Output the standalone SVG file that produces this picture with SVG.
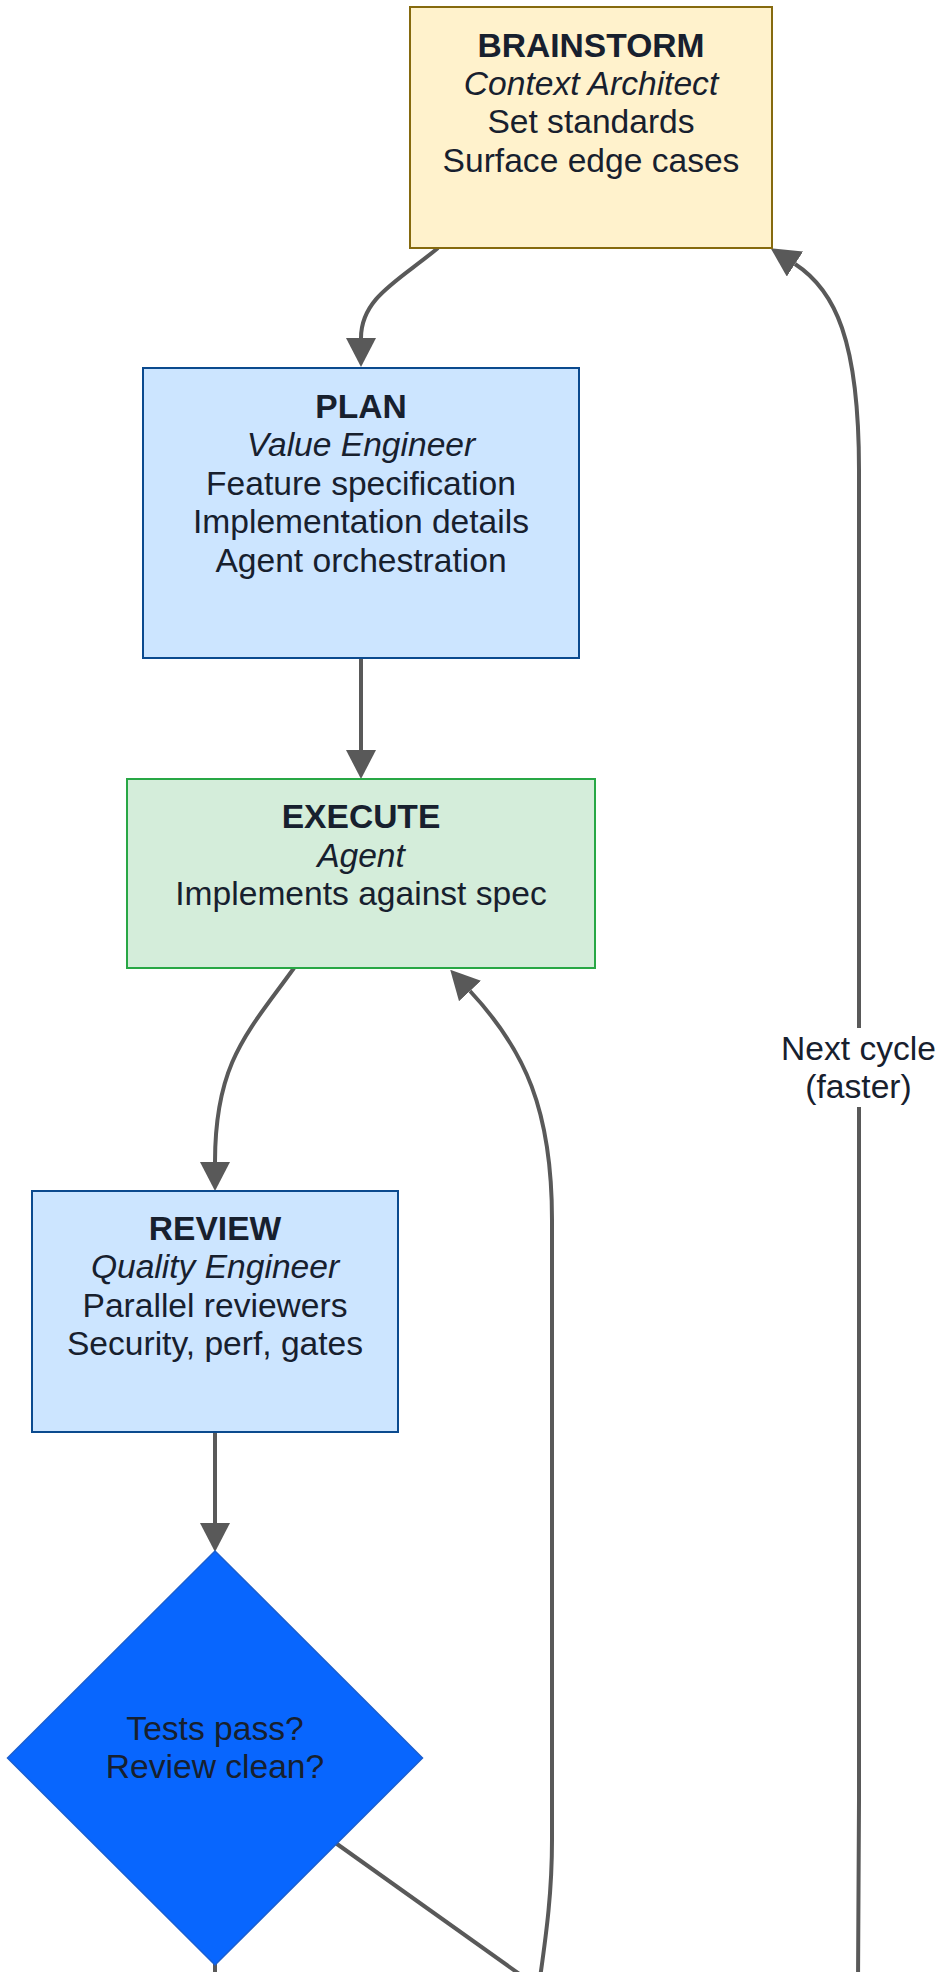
<svg xmlns="http://www.w3.org/2000/svg" width="942" height="1972" viewBox="0 0 942 1972">
  <style>
    .lbl { font-family: "Liberation Sans", Arial, sans-serif; font-size: 33.6px; fill: #17202e; text-anchor: middle; }
    .title { font-weight: bold; }
    .role { font-style: italic; }
    .edge { fill: none; stroke: #595959; stroke-width: 4; }
    .yellow { fill: #fff2cc; stroke: #866a0e; stroke-width: 2; }
    .blue { fill: #cce5ff; stroke: #0b4a8e; stroke-width: 2; }
    .green { fill: #d4edda; stroke: #28a745; stroke-width: 2; }
    .decision { fill: #0866fe; stroke: #1a5fd0; stroke-width: 1.5; }
  </style>
  <defs>
    <marker id="arrow" markerUnits="userSpaceOnUse" viewBox="0 0 29 30" refX="0" refY="15" markerWidth="29" markerHeight="30" orient="auto">
      <path d="M0,0 L29,15 L0,30 z" fill="#595959"/>
    </marker>
  </defs>
  <rect width="942" height="1972" fill="#ffffff"/>

  <!-- connectors -->
  <g id="edges">
    <path class="edge" d="M438,248 C 398,281 361,298 361,338" marker-end="url(#arrow)"/>
    <path class="edge" d="M361,658 L361,750" marker-end="url(#arrow)"/>
    <path class="edge" d="M294,968 C 248,1032 215,1062 215,1162" marker-end="url(#arrow)"/>
    <path class="edge" d="M215,1432 L215,1523" marker-end="url(#arrow)"/>
    <path class="edge" d="M330,1839 L532,1983"/>
    <path class="edge" d="M215,1960 L215,1985"/>
    <path class="edge" d="M539,1985 C 547,1930 552,1890 552,1840 L552,1220 C 552,1110 525,1050 470,991" marker-end="url(#arrow)"/>
    <path class="edge" d="M858,1985 L859,1800 L859,470 C 859,340 835,290 795,264" marker-end="url(#arrow)"/>
    <g id="edge-label-next">
      <rect x="779" y="1028" width="160" height="79" fill="#ffffff"/>
      <text class="lbl" x="858.5" y="1060">Next cycle</text>
      <text class="lbl" x="858.5" y="1098">(faster)</text>
    </g>
  </g>

  <g id="brainstorm">
    <rect class="yellow" x="410" y="7" width="362" height="241"/>
    <text class="lbl title" x="591" y="56.7">BRAINSTORM</text>
    <text class="lbl role" x="591" y="95">Context Architect</text>
    <text class="lbl" x="591" y="133.4">Set standards</text>
    <text class="lbl" x="591" y="171.8">Surface edge cases</text>
  </g>

  <g id="plan">
    <rect class="blue" x="143" y="368" width="436" height="290"/>
    <text class="lbl title" x="361" y="418">PLAN</text>
    <text class="lbl role" x="361" y="456.4">Value Engineer</text>
    <text class="lbl" x="361" y="494.8">Feature specification</text>
    <text class="lbl" x="361" y="533.2">Implementation details</text>
    <text class="lbl" x="361" y="571.6">Agent orchestration</text>
  </g>

  <g id="execute">
    <rect class="green" x="127" y="779" width="468" height="189"/>
    <text class="lbl title" x="361" y="828.3">EXECUTE</text>
    <text class="lbl role" x="361" y="866.7">Agent</text>
    <text class="lbl" x="361" y="905.1">Implements against spec</text>
  </g>

  <g id="review">
    <rect class="blue" x="32" y="1191" width="366" height="241"/>
    <text class="lbl title" x="215" y="1240">REVIEW</text>
    <text class="lbl role" x="215" y="1278.4">Quality Engineer</text>
    <text class="lbl" x="215" y="1316.8">Parallel reviewers</text>
    <text class="lbl" x="215" y="1355.2">Security, perf, gates</text>
  </g>

  <g id="gate">
    <polygon class="decision" points="215,1551 422.5,1758 215,1965 7.5,1758"/>
    <text class="lbl" x="215" y="1740">Tests pass?</text>
    <text class="lbl" x="215" y="1778.4">Review clean?</text>
  </g>
</svg>
